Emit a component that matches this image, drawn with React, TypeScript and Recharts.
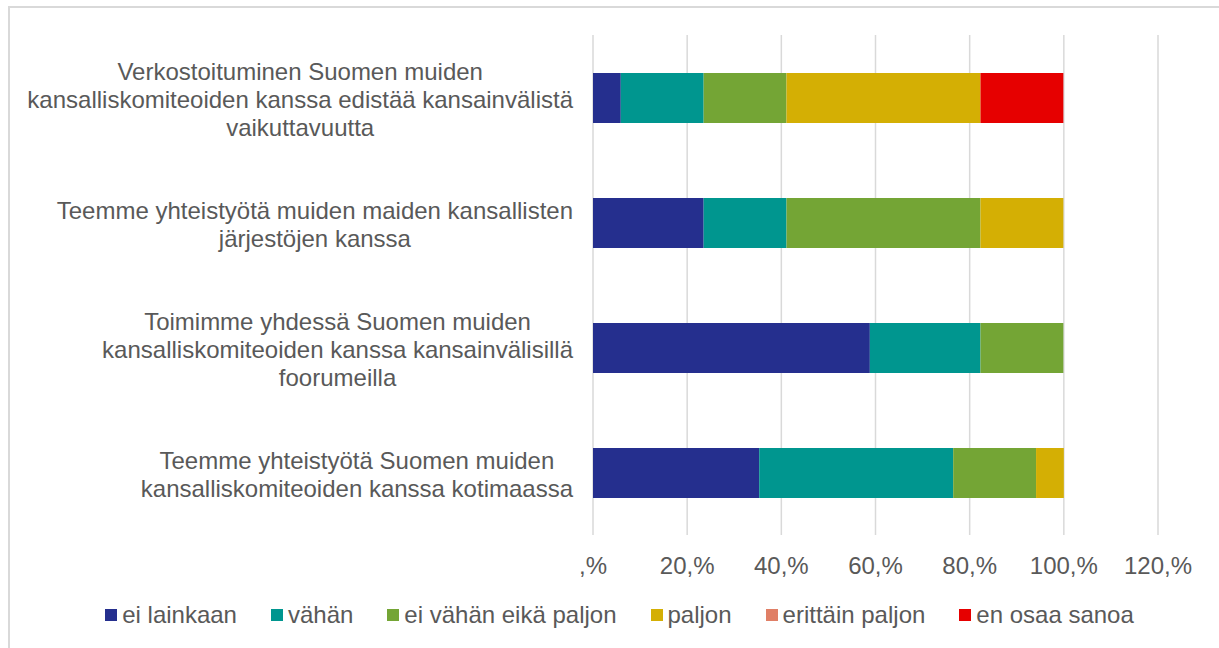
import React from 'react';
import {
  BarChart,
  Bar,
  XAxis,
  YAxis,
  CartesianGrid,
  Legend,
} from 'recharts';

// each category label is already wrapped into lines, like in the original
const categories = [
  ['Verkostoituminen Suomen muiden', 'kansalliskomiteoiden kanssa edistää kansainvälistä', 'vaikuttavuutta'],
  ['Teemme yhteistyötä muiden maiden kansallisten', 'järjestöjen kanssa'],
  ['Toimimme yhdessä Suomen muiden', 'kansalliskomiteoiden kanssa kansainvälisillä', 'foorumeilla'],
  ['Teemme yhteistyötä Suomen muiden', 'kansalliskomiteoiden kanssa kotimaassa'],
];

const eiLainkaan = [5.9, 23.5, 58.8, 35.3];
const vahan = [17.6, 17.6, 23.5, 41.2];
const eiVahanEikaPaljon = [17.6, 41.2, 17.6, 17.6];
const paljon = [41.2, 17.6, 0, 5.9];
const erittainPaljon = [0, 0, 0, 0];
const enOsaaSanoa = [17.6, 0, 0, 0];

const ticks = [0, 20, 40, 60, 80, 100, 120];
const tickLabels = [',%', '20,%', '40,%', '60,%', '80,%', '100,%', '120,%'];

const SERIES = [
  { key: 'eiLainkaan', name: 'ei lainkaan', color: '#252F8E', values: eiLainkaan },
  { key: 'vahan', name: 'vähän', color: '#00968F', values: vahan },
  { key: 'eiVahan', name: 'ei vähän eikä paljon', color: '#74A535', values: eiVahanEikaPaljon },
  { key: 'paljon', name: 'paljon', color: '#D4AF04', values: paljon },
  { key: 'erittain', name: 'erittäin paljon', color: '#E07F66', values: erittainPaljon },
  { key: 'enOsaa', name: 'en osaa sanoa', color: '#E60000', values: enOsaaSanoa },
];

const data = categories.map((lines, i) => {
  const row: Record<string, any> = { id: String(i), lines };
  SERIES.forEach((s) => (row[s.key] = s.values[i]));
  return row;
});

const FONT = 'Arial, "Liberation Sans", sans-serif';
const TEXT = '#595959';
const FS = 24;

let measureCtx: CanvasRenderingContext2D | null = null;
function textWidth(t: string) {
  if (!measureCtx) {
    measureCtx = document.createElement('canvas').getContext('2d');
    if (measureCtx) measureCtx.font = `${FS}px "Liberation Sans"`;
  }
  return measureCtx ? measureCtx.measureText(t).width : t.length * FS * 0.5;
}

function CategoryTick({ x, y, payload }: any) {
  const lines: string[] = categories[Number(payload.value)] || [];
  const maxW = Math.max(...lines.map(textWidth));
  const right = x - 12;
  const cx = right - maxW / 2;
  const lh = 28;
  const top = y + 2 - ((lines.length - 1) * lh) / 2;
  return (
    <text fontFamily={FONT} fontSize={FS} fill={TEXT} textAnchor="middle">
      {lines.map((l, i) => (
        <tspan key={i} x={cx} y={top + i * lh} dy="0.35em">
          {l}
        </tspan>
      ))}
    </text>
  );
}

function PercentTick({ x, y, payload }: any) {
  const idx = ticks.indexOf(payload.value);
  return (
    <text x={x} y={y + 23} fontFamily={FONT} fontSize={FS} fill={TEXT} textAnchor="middle" dy="0.35em">
      {tickLabels[idx]}
    </text>
  );
}

function LegendContent() {
  return (
    <div style={{ display: 'flex', justifyContent: 'center', fontFamily: FONT, fontSize: FS, color: TEXT }}>
      {SERIES.map((s, i) => (
        <div
          key={s.key}
          style={{ display: 'flex', alignItems: 'center', marginRight: i < SERIES.length - 1 ? 34 : 0 }}
        >
          <span style={{ width: 12, height: 12, background: s.color, marginRight: 5, display: 'inline-block' }} />
          <span>{s.name}</span>
        </div>
      ))}
    </div>
  );
}

export default function App() {
  return (
    <div style={{ position: 'absolute', left: 0, top: 0, width: 1219, height: 648, overflow: 'hidden', background: '#fff' }}>
      <div
        style={{
          position: 'absolute',
          left: 8,
          top: 6,
          width: 1240,
          height: 680,
          border: '2px solid #d9d9d9',
          boxSizing: 'border-box',
        }}
      />
      <div style={{ position: 'absolute', left: 0, top: 0 }}>
        <BarChart
          width={1219}
          height={648}
          data={data}
          layout="vertical"
          margin={{ top: 35, right: 61, bottom: 83, left: 0 }}
          barSize={50}
        >
          <CartesianGrid horizontal={false} stroke="#d9d9d9" strokeWidth={1.5} />
          <XAxis
            type="number"
            domain={[0, 120]}
            ticks={ticks}
            axisLine={false}
            tickLine={false}
            tick={<PercentTick />}
            interval={0}
            height={30}
          />
          <YAxis
            type="category"
            dataKey="id"
            width={593}
            axisLine={false}
            tickLine={false}
            tick={<CategoryTick />}
            interval={0}
          />
          <Legend
            layout="horizontal"
            verticalAlign="middle"
            content={<LegendContent />}
            wrapperStyle={{ position: 'absolute', top: 601, left: 10, width: 1219 }}
          />
          {SERIES.map((s) => (
            <Bar key={s.key} dataKey={s.key} name={s.name} stackId="a" fill={s.color} isAnimationActive={false} />
          ))}
        </BarChart>
      </div>
    </div>
  );
}
